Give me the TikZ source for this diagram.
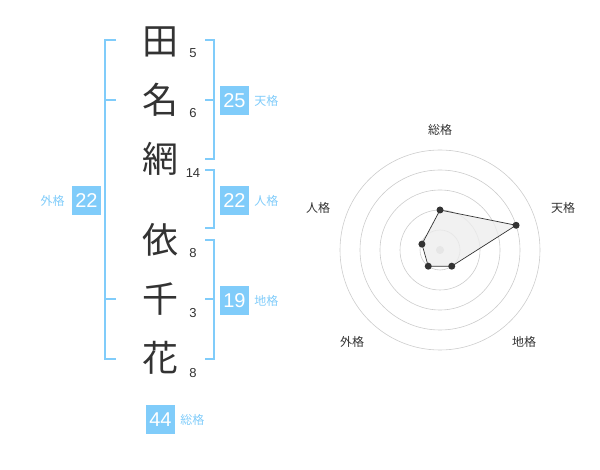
\documentclass[tikz,border=0pt]{standalone}
\usepackage{fontspec}
\setmainfont{Liberation Sans}
\newfontfamily\jpfont{Noto Sans CJK JP}
\usetikzlibrary{positioning}
\definecolor{kakublue}{HTML}{80CCFA}
\definecolor{ink}{HTML}{333333}

\begin{document}
\begin{tikzpicture}
[
x=1pt, y=-1pt,
kanji/.style={text=ink, inner sep=0pt, font=\jpfont\fontsize{36}{36}\selectfont},
strokes/.style={text=ink, inner sep=0pt, font=\fontsize{13}{13}\selectfont},
numbox/.style={fill=kakublue, text=white, minimum size=29pt, inner sep=0pt, font=\fontsize{20}{20}\selectfont},
kaku/.style={text=kakublue, inner sep=0pt, font=\jpfont\fontsize{12}{12}\selectfont},
bracket/.style={draw=kakublue, line width=1.5pt},
ring/.style={draw=black!20, line width=0.6pt},
axislabel/.style={text=ink, inner sep=0pt, font=\jpfont\fontsize{12}{12}\selectfont},
dot/.style={circle, fill=ink, inner sep=0pt, minimum size=7pt}
]
\useasboundingbox (0,0) rectangle (600,470);

% name
\node[kanji] (k1) at (160,42) {田};
\node[kanji] (k2) at (160,100) {名};
\node[kanji] (k3) at (160,159) {網};
\node[kanji] (k4) at (160,240) {依};
\node[kanji] (k5) at (160,299) {千};
\node[kanji] (k6) at (160,358) {花};

\node[strokes] (s1) at (193,53) {5};
\node[strokes] (s2) at (193,113) {6};
\node[strokes] (s3) at (193,173) {14};
\node[strokes] (s4) at (193,253) {8};
\node[strokes] (s5) at (193,313) {3};
\node[strokes] (s6) at (193,373) {8};

% brackets
\draw[bracket] (116,40) -- (105,40) -- (105,359) -- (116,359);
\draw[bracket] (105,100) -- (116,100);
\draw[bracket] (105,299) -- (116,299);
\draw[bracket] (205,40) -- (214,40) -- (214,159) -- (205,159);
\draw[bracket] (205,100) -- (214,100);
\draw[bracket] (205,170) -- (214,170) -- (214,228) -- (205,228);
\draw[bracket] (205,240) -- (214,240) -- (214,359) -- (205,359);
\draw[bracket] (205,299) -- (214,299);

% scores
\node[numbox] (ten) at (234.5,100.5) {25};
\node[kaku, right=5pt of ten] {天格};
\node[numbox] (jin) at (234.5,200.5) {22};
\node[kaku, right=5pt of jin] {人格};
\node[numbox] (chi) at (234.5,300.5) {19};
\node[kaku, right=5pt of chi] {地格};
\node[numbox] (gai) at (86.5,200.5) {22};
\node[kaku, left=7pt of gai] {外格};
\node[numbox] (sou) at (160.5,419.5) {44};
\node[kaku, right=5pt of sou] {総格};

% radar
\coordinate (c) at (440,250);
\foreach \r in {20,40,60,80,100}
	\draw[ring] (c) circle[radius=\r pt];
\fill[black!20] (c) circle[radius=4pt];

\coordinate (psou) at ([shift={(90:40pt)}]c);
\coordinate (pten) at ([shift={(18:80pt)}]c);
\coordinate (pchi) at ([shift={(-54:20pt)}]c);
\coordinate (pgai) at ([shift={(-126:20pt)}]c);
\coordinate (pjin) at ([shift={(162:19pt)}]c);
\draw[ink, line width=0.7pt, fill=black!7, fill opacity=0.8] (psou) -- (pten) -- (pchi) -- (pgai) -- (pjin) -- cycle;
\foreach \p in {psou,pten,pchi,pgai,pjin}
	\node[dot] at (\p) {};

\node[axislabel] (lsou) at (440,130) {総格};
\node[axislabel] (lten) at (563,208) {天格};
\node[axislabel] (lchi) at (524,342) {地格};
\node[axislabel] (lgai) at (352,342) {外格};
\node[axislabel] (ljin) at (318,208) {人格};
\end{tikzpicture}
\end{document}
